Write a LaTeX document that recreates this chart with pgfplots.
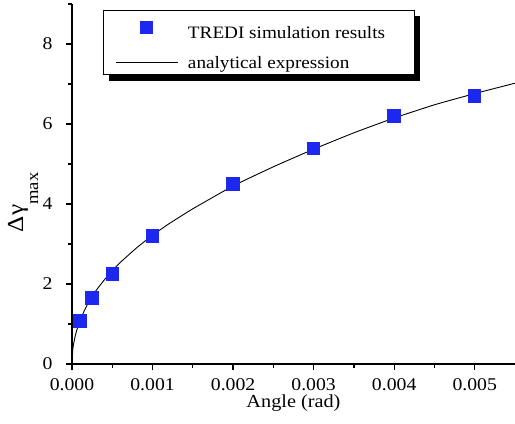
\documentclass[border=0pt]{standalone}
\usepackage{fontspec}
\setmainfont{Liberation Serif}[FakeStretch=1.1]
\usepackage{pgfplots}
\pgfplotsset{compat=1.18}
\pgfdeclarelayer{background}
\pgfsetlayers{background,main}
\definecolor{markblue}{RGB}{28,40,240}
\pgfplotsset{
  legmark/.style={legend image code/.code={\draw[##1] plot coordinates {(31bp,0bp)};}},
  legline/.style={legend image code/.code={\draw[##1] (0bp,0bp) -- (62bp,0bp);}},
}
\begin{document}
\begin{tikzpicture}
\begin{axis}[
  scale only axis,
  width=443bp, height=360bp,
  xmin=0, xmax=0.0055, ymin=0, ymax=9,
  axis x line*=bottom, axis y line*=left,
  axis line style={line width=1.3bp},
  every tick/.style={line width=1.3bp, black},
  tick align=outside,
  major tick length=6bp, minor tick length=4bp,
  xtick={0,0.001,0.002,0.003,0.004,0.005},
  xticklabels={0.000,0.001,0.002,0.003,0.004,0.005},
  minor xtick={0.0005,0.0015,0.0025,0.0035,0.0045},
  ytick={0,2,4,6,8},
  yticklabels={0,2,4,6,8},
  minor ytick={1,3,5,7,9},
  scaled x ticks=false,
  tick label style={font=\fontsize{18}{20}\selectfont},
  xticklabel shift=5bp,
  yticklabel shift=10bp,
  label style={font=\fontsize{18.5}{21}\selectfont},
  xlabel={Angle (rad)},
  xlabel style={at={(axis description cs:0.5,-0.11)}, anchor=center},
  ylabel={{\fontsize{23}{26}\selectfont Δγ}\raisebox{-15bp}{\fontsize{17}{19}\selectfont max}},
  ylabel style={at={(axis description cs:-0.11,0.449)}, anchor=center},
  legend style={name=leg, at={(axis description cs:0.0693,0.983)}, anchor=north west,
    draw=black, line width=0.8bp, fill=white,
    font=\fontsize{17.5}{20}\selectfont,
    inner xsep=12bp, inner ysep=3bp, row sep=12bp,
    /tikz/every odd column/.append style={column sep=8bp}},
  legend cell align=left,
]
\coordinate (SW) at (rel axis cs:0,0);
\coordinate (NE) at (rel axis cs:1,1);
\addplot[only marks, mark=square*, mark size=6.2bp,
  mark options={draw=markblue, fill=markblue, line width=0pt}, legmark]
coordinates {
(0.0001,1.07) (0.00025,1.65) (0.0005,2.25) (0.001,3.2) (0.002,4.5)
(0.003,5.38) (0.004,6.2) (0.005,6.7)
};
\addlegendentry{\rule{0pt}{23bp}\makebox[212bp][l]{TREDI simulation results}}
\addplot[black, line width=0.9bp, smooth, tension=0.3, legline]
coordinates {
(0,0) (0.00001,0.36) (0.00002,0.50) (0.00004,0.70) (0.00006,0.85)
(0.0001,1.08) (0.00015,1.32) (0.0002,1.52) (0.00025,1.68) (0.0003,1.84)
(0.0004,2.10) (0.0005,2.33) (0.0006,2.54) (0.0008,2.90) (0.001,3.22)
(0.0012,3.50) (0.0015,3.88) (0.002,4.45) (0.0025,4.93) (0.003,5.37)
(0.0035,5.78) (0.004,6.15) (0.0045,6.48) (0.005,6.76) (0.0055,7.02)
};
\addlegendentry{\makebox[212bp][l]{analytical expression}}
\end{axis}
\begin{pgfonlayer}{background}
\fill[black] ([shift={(6bp,-6bp)}]leg.south west) rectangle ([shift={(6bp,-6bp)}]leg.north east);
\end{pgfonlayer}
\pgfresetboundingbox
\path[use as bounding box] ([shift={(-72bp,-60bp)}]SW) rectangle ([shift={(0bp,4bp)}]NE);
\end{tikzpicture}
\end{document}
